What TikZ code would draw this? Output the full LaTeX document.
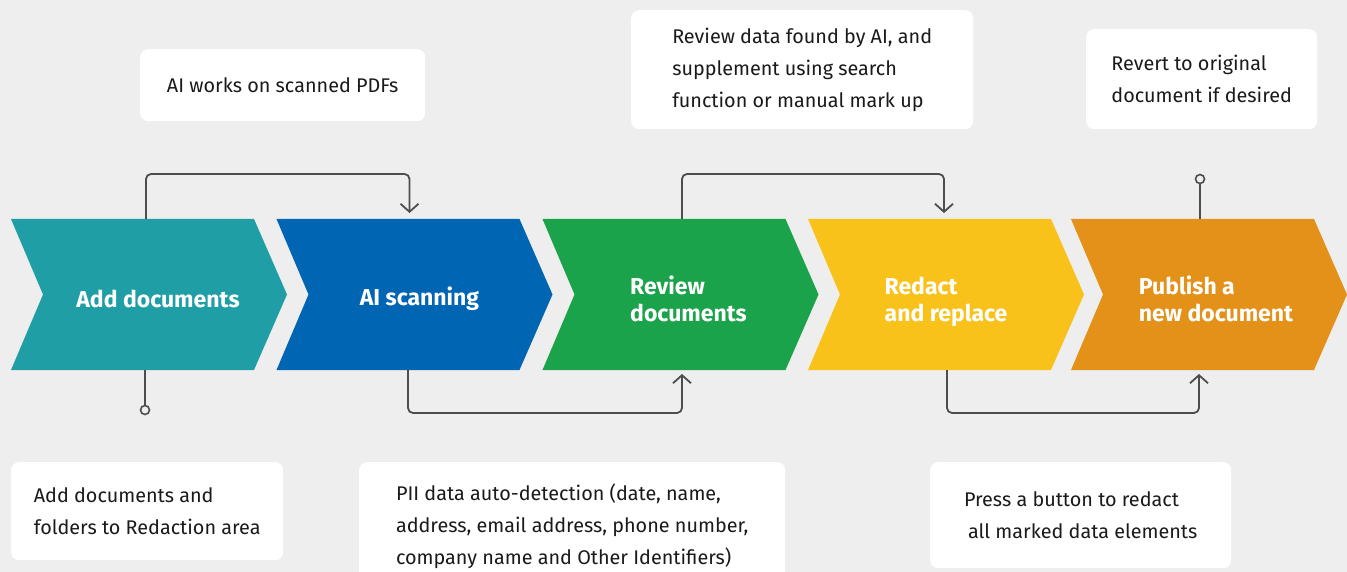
\documentclass[tikz,border=0pt]{standalone}
\usepackage{fontspec}
\setmainfont{Fira Sans}
\usetikzlibrary{arrows.meta}

\definecolor{bggray}{HTML}{EEEEEE}
\definecolor{linkgray}{HTML}{4D4D4D}
\definecolor{notetext}{HTML}{1A1A1A}
\definecolor{cteal}{HTML}{1F9FA5}
\definecolor{cblue}{HTML}{0065B2}
\definecolor{cgreen}{HTML}{1AA34A}
\definecolor{cyellow}{HTML}{F9C21B}
\definecolor{corange}{HTML}{E4911A}

\tikzset{
  chev/.style={minimum width=276pt, minimum height=151pt, inner sep=0pt, outer sep=0pt},
  steptxt/.style={text=white, align=left, inner sep=0pt, font=\bfseries\fontsize{23}{27}\selectfont},
  note/.style={fill=white, rounded corners=8pt, anchor=north west, align=left, inner sep=0pt,
    text=notetext, font=\fontsize{19.8}{32}\selectfont},
  link/.style={draw=linkgray, line width=1.8pt, rounded corners=5pt},
  tip/.style={-{Straight Barb[length=8pt,width=18pt,line width=1.8pt]}},
  dotend/.style={circle, draw=linkgray, fill=bggray, line width=1.6pt, minimum size=9pt, inner sep=0pt}
}

\begin{document}
\begin{tikzpicture}[x=1pt, y=-1pt]
    % Background
    \clip (0,0) rectangle (1347,572);
    \fill[bggray] (0,0) rectangle (1347,572);

    % Chevrons
    \foreach \n/\x/\col in {s1/149/cteal, s2/414.5/cblue, s3/680.5/cgreen, s4/946/cyellow, s5/1209/corange} {
        \node[chev] (\n) at (\x,294.5) {};
        \fill[\col] (\n.north west) -- ([xshift=-33pt]\n.north east) -- (\n.east)
            -- ([xshift=-33pt]\n.south east) -- (\n.south west) -- ([xshift=32pt]\n.west) -- cycle;
    }

    % Step labels
    \node[steptxt] (t1) at ([xshift=9pt,yshift=-4pt]s1.center) {Add documents};
    \node[steptxt] (t2) at ([xshift=5pt,yshift=-4pt]s2.center) {AI scanning};
    \node[steptxt] (t3) at ([xshift=8pt,yshift=-4pt]s3.center) {Review\\documents};
    \node[steptxt] (t4) at ([xshift=0pt,yshift=-7pt]s4.center) {Redact\\and replace};
    \node[steptxt] (t5) at ([xshift=7pt,yshift=-4pt]s5.center) {Publish a\\new document};

    % Notes
    \node[note, minimum width=285pt, minimum height=72pt] (n2) at (140,49)
        {AI works on scanned PDFs};
    \node[note, minimum width=342pt, minimum height=119pt] (n3) at (631,10)
        {Review data found by AI, and\\supplement using search\\function or manual mark up};
    \node[note, minimum width=231pt, minimum height=100pt] (n5) at (1086,29)
        {Revert to original\\document if desired};
    \node[note, minimum width=272pt, minimum height=98pt] (n1) at (11,462)
        {Add documents and\\folders to Redaction area};
    \node[note, minimum width=426pt, minimum height=129pt] (n2b) at (359,462)
        {PII data auto-detection (date, name,\\address, email address, phone number,\\company name and Other Identifiers)};
    \node[note, minimum width=301pt, minimum height=106pt] (n4) at (930,462)
        {Press a button to redact\\\hspace*{4pt}all marked data elements};

    % End dots
    \node[dotend] (d1) at ([xshift=-4pt,yshift=-40pt]s1.south) {};
    \node[dotend] (d5) at ([xshift=-9pt,yshift=40pt]s5.north) {};

    % Links
    \draw[link] ([xshift=-4pt]s1.south) -- (d1);
    \draw[link] ([xshift=-9pt]s5.north) -- (d5);
    \draw[link, tip] ([xshift=-3pt]s1.north) -- ++(0,-45) -| ([xshift=-5pt,yshift=6pt]s2.north);
    \draw[link, tip] ([xshift=1.5pt]s3.north) -- ++(0,-45) -| ([xshift=-2pt,yshift=6pt]s4.north);
    \draw[link, tip] ([xshift=-6.5pt]s2.south) -- ++(0,43) -| ([xshift=1.5pt,yshift=-4pt]s3.south);
    \draw[link, tip] ([xshift=1pt]s4.south) -- ++(0,43) -| ([xshift=-10pt,yshift=-4pt]s5.south);
\end{tikzpicture}
\end{document}
